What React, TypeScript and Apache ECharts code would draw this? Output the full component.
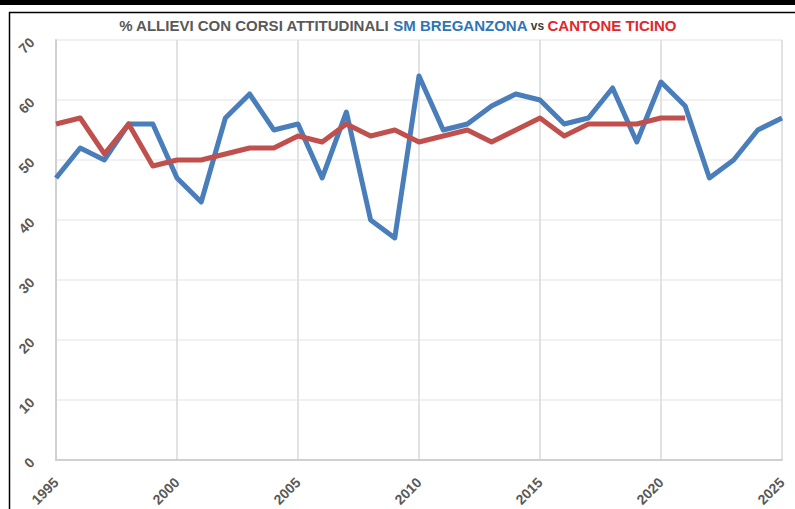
import React, { useEffect, useRef } from "react";
import * as echarts from "echarts";

const years = [
  1995, 1996, 1997, 1998, 1999, 2000, 2001, 2002, 2003, 2004, 2005, 2006, 2007, 2008, 2009, 2010,
  2011, 2012, 2013, 2014, 2015, 2016, 2017, 2018, 2019, 2020, 2021, 2022, 2023, 2024, 2025,
];
const breganzona = [
  47, 52, 50, 56, 56, 47, 43, 57, 61, 55, 56, 47, 58, 40, 37, 64,
  55, 56, 59, 61, 60, 56, 57, 62, 53, 63, 59, 47, 50, 55, 57,
];
const ticino = [
  56, 57, 51, 56, 49, 50, 50, 51, 52, 52, 54, 53, 56, 54, 55, 53,
  54, 55, 53, 55, 57, 54, 56, 56, 56, 57, 57,
];
const xTicks = { min: 1995, max: 2025, interval: 5 };
const yTicks = { min: 0, max: 70, interval: 10 };

const labelColor = "#595959";
const font = "'Liberation Sans', Arial, sans-serif";
const titleFont = "'Liberation Sans Narrow', 'Liberation Sans', sans-serif";

export default function App() {
  const ref = useRef<HTMLDivElement>(null);
  useEffect(() => {
    if (!ref.current) return;
    const chart = echarts.init(ref.current, undefined, { renderer: "svg" });
    const blueData = years.map((y, i) => [y, breganzona[i]]);
    const redData = ticino.map((v, i) => [years[i], v]);
    chart.setOption({
      animation: false,
      backgroundColor: "#ffffff",
      title: {
        text:
          "{a|% ALLIEVI CON CORSI ATTITUDINALI }{b|SM BREGANZONA}{c| vs }{d|CANTONE TICINO}",
        left: "center",
        top: 18,
        padding: [0, 0, 0, 14],
        textStyle: {
          rich: {
            a: { color: "#595959", fontSize: 15, fontWeight: "bold", fontFamily: titleFont },
            b: { color: "#2e75b6", fontSize: 15, fontWeight: "bold", fontFamily: titleFont },
            c: { color: "#404040", fontSize: 12, fontWeight: "bold", fontFamily: titleFont },
            d: { color: "#e3262b", fontSize: 15, fontWeight: "bold", fontFamily: titleFont },
          },
        },
      },
      grid: { left: 56, right: 13, top: 40, bottom: 49, containLabel: false },
      xAxis: {
        type: "value",
        min: xTicks.min,
        max: xTicks.max,
        interval: xTicks.interval,
        axisLine: { show: true, lineStyle: { color: "#d0d0d0", width: 2 } },
        axisTick: { show: false },
        axisLabel: {
          rotate: 45,
          margin: 20,
          color: labelColor,
          fontSize: 14,
          fontWeight: "bold",
          fontFamily: font,
          formatter: (v: number) => String(v),
        },
        splitLine: { show: true, lineStyle: { color: "#d9d9d9", width: 1.5 } },
      },
      yAxis: {
        type: "value",
        min: yTicks.min,
        max: yTicks.max,
        interval: yTicks.interval,
        axisLine: { show: true, lineStyle: { color: "#d0d0d0", width: 2 } },
        axisTick: { show: false },
        axisLabel: {
          rotate: 45,
          margin: 24,
          color: labelColor,
          fontSize: 14,
          fontWeight: "bold",
          fontFamily: font,
        },
        splitLine: { show: true, lineStyle: { color: "#ececec", width: 1.5 } },
      },
      series: [
        {
          name: "SM Breganzona",
          type: "line",
          data: blueData,
          symbol: "none",
          lineStyle: { color: "#4a7ebb", width: 5, join: "round" },
          z: 3,
        },
        {
          name: "Cantone Ticino",
          type: "line",
          data: redData,
          symbol: "none",
          lineStyle: { color: "#c0504d", width: 5, join: "round" },
          z: 4,
        },
      ],
      graphic: [
        { type: "rect", shape: { x: 0, y: 0, width: 795, height: 5 }, style: { fill: "#000" }, silent: true },
        { type: "line", shape: { x1: 9, y1: 12.5, x2: 795, y2: 12.5 }, style: { stroke: "#000", lineWidth: 1.5 }, silent: true },
        { type: "line", shape: { x1: 9.5, y1: 12, x2: 9.5, y2: 509 }, style: { stroke: "#000", lineWidth: 1.5 }, silent: true },
      ],
    });
    return () => chart.dispose();
  }, []);
  return (
    <div
      ref={ref}
      style={{ position: "absolute", left: 0, top: 0, width: 795, height: 509 }}
    />
  );
}
